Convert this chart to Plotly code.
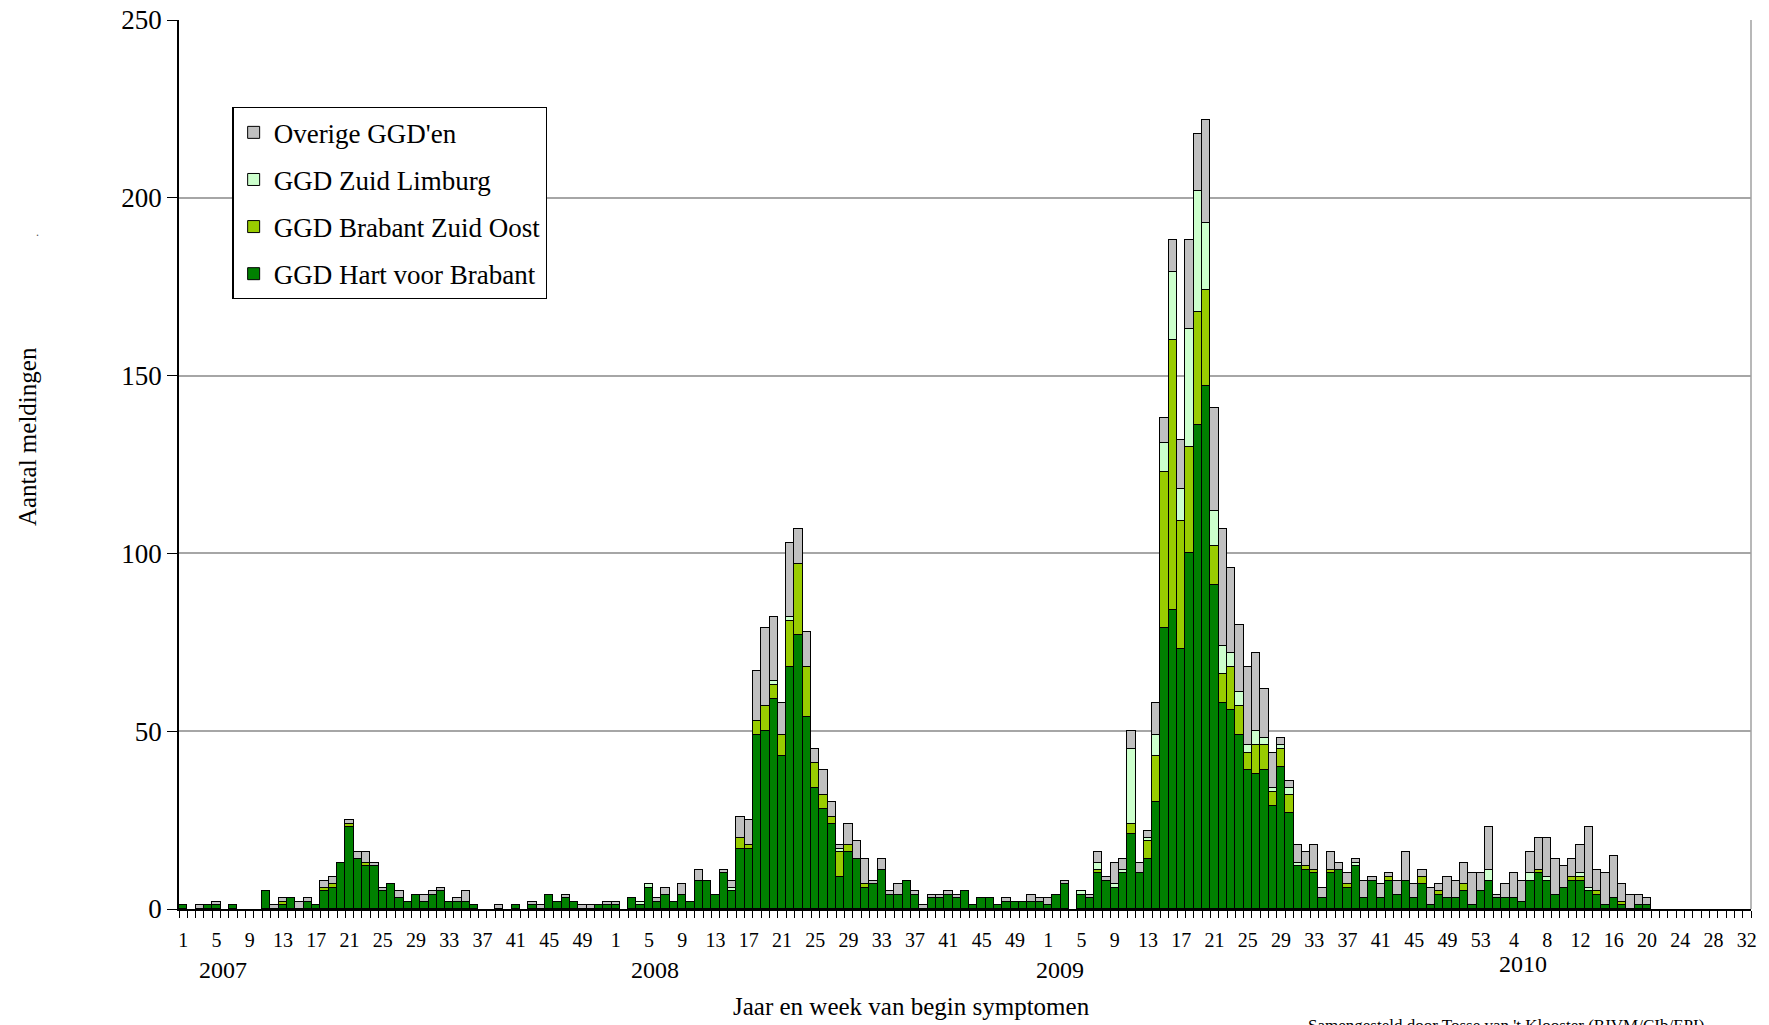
import plotly.graph_objects as go

# ---------------- data ----------------
years = [2007, 2008, 2009, 2010]
weeks_per_year = [52, 52, 53, 32]

# GGD Hart voor Brabant
hvb_2007 = [1,0,0,1,1,0,1,0,0,0, 5,0,1,3,0,2,1,5,6,13, 23,14,12,12,5,7,3,2,4,2, 4,5,2,2,2,1,0,0,0,0, 1,0,1,0,4,2,3,2,0,0, 1,1]
hvb_2008 = [1,0,3,1,6,2,4,2,4,2, 8,8,4,10,5,17,17,49,50,59, 43,68,77,54,34,28,24,9,16,14, 6,7,11,4,4,8,4,0,3,3, 4,3,5,1,3,3,1,2,2,2, 2,2]
hvb_2009 = [1,4,7,0,4,3,10,8,6,10, 21,10,14,30,79,84,73,100,136,147, 91,58,56,49,39,38,39,29,40,27, 12,11,10,3,10,11,6,12,3,8, 3,8,4,8,3,7,1,4,3,3, 5,1,5]
hvb_2010 = [8,3,3,3,2,8,10,8,4,6, 8,8,5,4,1,3,1,0,1,1, 0,0,0,0,0,0,0,0,0,0, 0,0]

# GGD Brabant Zuid Oost
bzo_2007 = [0,0,0,0,0,0,0,0,0,0, 0,0,1,0,0,0,0,1,1,0, 1,0,1,0,0,0,0,0,0,0, 0,0,0,0,0,0,0,0,0,0, 0,0,0,0,0,0,0,0,0,0, 0,0]
bzo_2008 = [0,0,0,0,0,0,0,0,0,0, 0,0,0,0,0,3,1,4,7,4, 6,13,20,14,7,4,2,7,2,0, 1,0,0,0,0,0,0,0,0,0, 0,0,0,0,0,0,0,0,0,0, 0,0]
bzo_2009 = [0,0,0,0,0,0,1,0,0,0, 3,0,5,13,44,76,36,30,32,27, 11,8,12,8,5,8,7,4,5,5, 0,1,1,0,1,0,1,0,0,0, 0,1,0,0,0,2,0,1,0,0, 2,0,0]
bzo_2010 = [0,0,0,0,0,0,1,0,0,0, 1,1,0,1,0,0,1,0,0,0, 0,0,0,0,0,0,0,0,0,0, 0,0]

# GGD Zuid Limburg
zl_2007 = [0,0,0,0,0,0,0,0,0,0, 0,0,0,0,0,0,0,0,0,0, 0,0,0,0,0,0,0,0,0,0, 0,0,0,0,0,0,0,0,0,0, 0,0,0,0,0,0,0,0,0,0, 0,0]
zl_2008 = [0,0,0,1,1,0,0,0,0,0, 0,0,0,0,1,0,0,0,0,1, 0,1,0,0,0,0,0,1,0,0, 0,0,0,0,0,0,0,0,0,0, 0,0,0,0,0,0,0,0,0,0, 0,0]
zl_2009 = [0,0,0,0,1,0,2,0,1,1, 21,0,1,6,8,19,9,33,34,19, 10,8,4,4,2,4,2,1,1,2, 1,0,0,0,0,0,0,1,0,0, 0,0,0,0,0,0,0,0,0,0, 0,0,0]
zl_2010 = [3,0,0,0,0,2,0,1,0,0, 0,1,1,0,0,0,0,0,0,0, 0,0,0,0,0,0,0,0,0,0, 0,0]

# Overige GGD'en
ov_2007 = [0,0,1,0,1,0,0,0,0,0, 0,1,1,0,2,1,0,2,2,0, 1,2,3,1,1,0,2,0,0,2, 1,1,0,1,3,0,0,0,1,0, 0,0,1,1,0,0,1,0,1,1, 0,1]
ov_2008 = [1,0,0,0,0,1,2,0,3,0, 3,0,0,1,2,6,7,14,22,18, 9,21,10,10,4,7,4,1,6,5, 7,1,3,1,3,0,1,1,1,1, 1,1,0,0,0,0,0,1,0,0, 2,1]
ov_2009 = [2,0,1,0,0,1,3,1,6,3, 5,3,2,9,7,9,14,25,16,29, 29,33,24,19,22,22,14,10,2,2, 5,4,7,3,5,2,3,1,5,1, 4,1,4,8,4,2,5,2,6,5, 6,9,5]
ov_2010 = [12,1,4,7,6,6,9,11,10,6, 5,8,17,6,9,12,5,4,3,2, 0,0,0,0,0,0,0,0,0,0, 0,0]

labelled_weeks = [
    [1,5,9,13,17,21,25,29,33,37,41,45,49],
    [1,5,9,13,17,21,25,29,33,37,41,45,49],
    [1,5,9,13,17,21,25,29,33,37,41,45,49,53],
    [4,8,12,16,20,24,28,32],
]

series_names = ["GGD Hart voor Brabant", "GGD Brabant Zuid Oost", "GGD Zuid Limburg", "Overige GGD'en"]
series_colors = ["#008000", "#99cc00", "#ccffcc", "#c0c0c0"]
series_values = [
    hvb_2007 + hvb_2008 + hvb_2009 + hvb_2010,
    bzo_2007 + bzo_2008 + bzo_2009 + bzo_2010,
    zl_2007 + zl_2008 + zl_2009 + zl_2010,
    ov_2007 + ov_2008 + ov_2009 + ov_2010,
]
legend_ranks = [4, 3, 2, 1]

# ---------------- build figure ----------------
n_total = sum(weeks_per_year)
xs = list(range(n_total))
year_start = [0]
for n in weeks_per_year[:-1]:
    year_start.append(year_start[-1] + n)

tickvals, ticktext = [], []
for start, wl in zip(year_start, labelled_weeks):
    for w in wl:
        tickvals.append(start + w - 1)
        ticktext.append(str(w))

FONT = "Liberation Serif, Times New Roman, serif"

fig = go.Figure()
for name, color, vals, rank in zip(series_names, series_colors, series_values, legend_ranks):
    fig.add_trace(go.Bar(
        x=xs, y=[v if v else None for v in vals], name=name,
        legendrank=rank, legendgroup=name,
        marker=dict(color=color, line=dict(color="black", width=1)),
    ))

def note(text, x, y, size, xref="paper", xanchor="center", yanchor="middle", **kw):
    fig.add_annotation(x=x, y=y, xref=xref, yref="paper", text=text, showarrow=False,
                       xanchor=xanchor, yanchor=yanchor,
                       font=dict(family=FONT, size=size, color=kw.pop("color", "black")), **kw)

# year labels under the week numbers
year_label_x = [4.8, 56.7, 105.4, 161.1]
year_label_y = [-0.0686, -0.0686, -0.0686, -0.062]
for yr, xv, yv in zip(years, year_label_x, year_label_y):
    note(str(yr), xv, yv, 24, xref="x")

note("Jaar en week van begin symptomen", 0.4657, -0.110, 25)
note("Aantal meldingen", -0.096, 0.531, 25, textangle=-90)
note("Samengesteld door Tosse van 't Klooster (RIVM/CIb/EPI)", 0.717, -0.1305, 17, xanchor="left")
note(".", -0.090, 0.7615, 12, color="#555555")

# right border of plot area
fig.add_shape(type="line", xref="paper", yref="paper", x0=1, x1=1, y0=0, y1=1,
              line=dict(color="#a0a0a0", width=1.5))

fig.update_layout(
    width=1769, height=1025,
    margin=dict(l=179, r=18, t=20, b=116, autoexpand=False),
    paper_bgcolor="white", plot_bgcolor="white",
    barmode="stack", bargap=0,
    font=dict(family=FONT, color="black"),
    showlegend=True,
    legend=dict(
        x=0.034, y=0.902, xanchor="left", yanchor="top",
        traceorder="grouped", tracegroupgap=9,
        bgcolor="white", bordercolor="black", borderwidth=1.2,
        font=dict(family=FONT, size=27, color="black"),
    ),
    xaxis=dict(
        range=[-0.5, n_total - 0.5], automargin=False,
        tickmode="array", tickvals=tickvals, ticktext=ticktext,
        ticks="outside", ticklen=12, tickcolor="rgba(0,0,0,0)",
        tickfont=dict(family=FONT, size=20, color="black"),
        showline=True, linecolor="black", linewidth=1.5,
        showgrid=False, zeroline=False,
        minor=dict(tickmode="linear", tick0=-0.5, dtick=1, ticks="outside",
                   ticklen=7, tickcolor="black", tickwidth=1, showgrid=False),
    ),
    yaxis=dict(
        range=[0, 250], dtick=50, tick0=0, automargin=False,
        ticks="outside", ticklen=10, tickcolor="black", tickwidth=1,
        tickfont=dict(family=FONT, size=27, color="black"),
        ticklabeloverflow="allow",
        showline=True, linecolor="black", linewidth=1.5,
        showgrid=True, gridcolor="#a6a6a6", gridwidth=1.5,
        zeroline=False,
    ),
)

# remove the default 8px page margin so the figure fills the window exactly
fig.write_html("out.html", config={"displayModeBar": False},
               post_script="document.body.style.margin='0';document.body.style.overflow='hidden';")
